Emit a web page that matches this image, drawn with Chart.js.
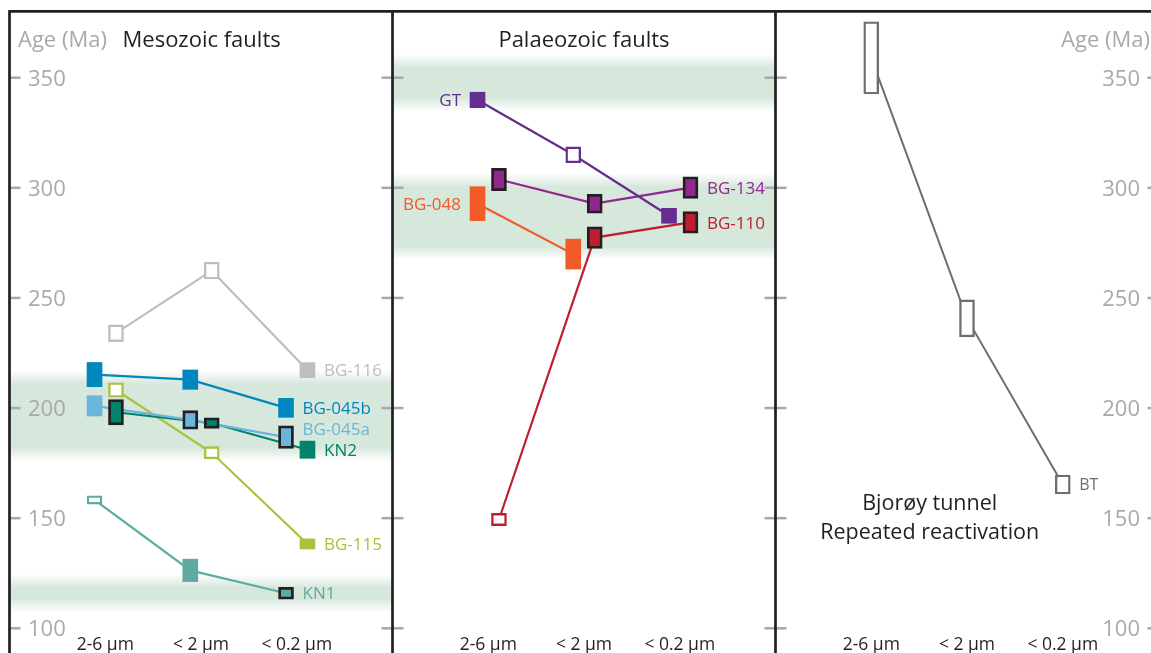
<!DOCTYPE html>
<html>
<head>
<meta charset="utf-8">
<title>Illite ages by grain size fraction</title>
<script src="https://cdn.jsdelivr.net/npm/chart.js@4.4.1/dist/chart.umd.min.js"></script>
<style>
  html, body { margin: 0; padding: 0; background: #fff; }
  #wrap { width: 1151px; height: 653px; }
</style>
</head>
<body>
<div id="wrap"><canvas id="ages" width="1151" height="653"></canvas></div>
<script>
// grain size fractions (same three in every panel)
const categories = ['2-6 µm', '< 2 µm', '< 0.2 µm'];
const panelTitles = ['Mesozoic faults', 'Palaeozoic faults'];
const yTicks = [100, 150, 200, 250, 300, 350];

// ages in Ma, and half height of each age box in Ma
const bg116 = [234.0, 262.4, 217.2],  bg116Err = [3.8, 3.8, 3.4];
const bg045b = [215.2, 212.9, 200.1], bg045bErr = [5.5, 4.4, 4.3];
const bg045a = [201.0, 194.6, 186.8], bg045aErr = [4.6, 4.2, 5.1];
const kn2 = [198.1, 193.2, 181.1],    kn2Err = [5.8, 2.4, 3.9];
const bg115 = [208.2, 179.7, 138.3],  bg115Err = [3.3, 2.8, 2.3];
const kn1 = [158.3, 126.3, 115.9],    kn1Err = [1.9, 5.1, 2.7];
const gt = [339.9, 315.0, 287.3],     gtErr = [3.5, 3.6, 3.4];
const bg134 = [303.8, 292.8, 300.1],  bg134Err = [5.1, 4.3, 4.9];
const bg048 = [292.8, 269.9],         bg048Err = [7.7, 6.8];
const bg110 = [149.4, 277.4, 284.3],  bg110Err = [2.8, 4.9, 4.9];
const bt = [359.0, 240.7, 165.3],     btErr = [16.4, 8.4, 4.3];

// shaded age ranges (Ma)
const mesozoicBands = [[179, 214], [110.5, 121.5]];
const palaeozoicBands = [[338, 357.5], [270.5, 303.5]];

// marks: o = open box, f = filled, b = filled with dark edge
const series = [
    { name: 'BG-116',  ages: bg116,  err: bg116Err,  panel: 0, shift: 1,  color: '#bcbec0', marks: 'oof', side: 'right' },
    { name: 'BG-045b', ages: bg045b, err: bg045bErr, panel: 0, shift: -1, color: '#0087bd', marks: 'fff', side: 'right' },
    { name: 'BG-045a', ages: bg045a, err: bg045aErr, panel: 0, shift: -1, color: '#6bb5dc', marks: 'fbb', side: 'right', dy: -8 },
    { name: 'KN2',     ages: kn2,    err: kn2Err,    panel: 0, shift: 1,  color: '#00826b', marks: 'bbf', side: 'right' },
    { name: 'BG-115',  ages: bg115,  err: bg115Err,  panel: 0, shift: 1,  color: '#a8c23e', marks: 'oof', side: 'right' },
    { name: 'KN1',     ages: kn1,    err: kn1Err,    panel: 0, shift: -1, color: '#5eaca1', marks: 'ofb', side: 'right' },
    { name: 'GT',      ages: gt,     err: gtErr,     panel: 1, shift: -1, color: '#662d91', marks: 'fof', side: 'left' },
    { name: 'BG-134',  ages: bg134,  err: bg134Err,  panel: 1, shift: 1,  color: '#92278f', marks: 'bbb', side: 'right' },
    { name: 'BG-048',  ages: bg048,  err: bg048Err,  panel: 1, shift: -1, color: '#f15a29', marks: 'ff',  side: 'left' },
    { name: 'BG-110',  ages: bg110,  err: bg110Err,  panel: 1, shift: 1,  color: '#be1e2d', marks: 'obb', side: 'right' },
    { name: 'BT',      ages: bt,     err: btErr,     panel: 2, shift: 0,  color: '#6d6e70', marks: 'ooo', side: 'right', size: 16 }
];

const W = 1151, H = 653;
const PANEL = 383, LEFT = 9.5;       // px width of one panel, px of first border
const INK = '#231f20', GREY = '#a7a9ac';
const FONT = '"Open Sans", "Noto Sans", sans-serif';

function xOf(s, i) {
    return s.panel + 0.25 * (i + 1) + s.shift * 0.028;
}

const datasets = [];
series.forEach(s => {
    const marks = s.marks.split('');
    datasets.push({
        type: 'line',
        data: s.ages.map((a, i) => ({ x: xOf(s, i), y: a })),
        borderColor: s.color,
        borderWidth: s.panel === 2 ? 2 : 2.2,
        pointRadius: 0,
        fill: false,
        tension: 0,
        order: 2
    });
    datasets.push({
        type: 'bar',
        data: s.ages.map((a, i) => ({ x: xOf(s, i), y: [a - s.err[i], a + s.err[i]] })),
        backgroundColor: marks.map(m => m === 'o' ? '#ffffff' : s.color),
        borderColor: marks.map(m => m === 'b' ? INK : s.color),
        borderWidth: marks.map(m => m === 'f' ? 0 : (m === 'b' ? 2.8 : 2.4)),
        borderSkipped: false,
        barThickness: 15,
        grouped: false,
        order: 1
    });
});

const decor = {
    id: 'decor',
    beforeDatasetsDraw(chart) {
        const ctx = chart.ctx, xs = chart.scales.x, ys = chart.scales.y;
        [mesozoicBands, palaeozoicBands].forEach((bands, p) => {
            const x0 = xs.getPixelForValue(p), x1 = xs.getPixelForValue(p + 1);
            bands.forEach(b => {
                const f = 7;
                const top = ys.getPixelForValue(b[1]) - f, bot = ys.getPixelForValue(b[0]) + f;
                const g = ctx.createLinearGradient(0, top, 0, bot);
                const e = (2 * f) / (bot - top);
                g.addColorStop(0, 'rgba(214,231,219,0)');
                g.addColorStop(e, 'rgba(214,231,219,1)');
                g.addColorStop(1 - e, 'rgba(214,231,219,1)');
                g.addColorStop(1, 'rgba(214,231,219,0)');
                ctx.fillStyle = g;
                ctx.fillRect(x0, top, x1 - x0, bot - top);
            });
        });
    },
    afterDatasetsDraw(chart) {
        const ctx = chart.ctx, xs = chart.scales.x, ys = chart.scales.y;
        ctx.save();
        ctx.textBaseline = 'alphabetic';

        // sample labels
        series.forEach(s => {
            const size = s.size || 17;
            const i = s.side === 'left' ? 0 : s.ages.length - 1;
            const px = xs.getPixelForValue(xOf(s, i));
            const py = ys.getPixelForValue(s.ages[i]) + (s.dy || 0);
            ctx.font = size + 'px ' + FONT;
            ctx.fillStyle = s.color;
            ctx.textAlign = s.side === 'left' ? 'right' : 'left';
            ctx.fillText(s.name, s.side === 'left' ? px - 16.5 : px + 16.5, py + size * 0.36);
        });

        // axis ticks on every panel border
        ctx.strokeStyle = GREY;
        ctx.lineWidth = 2.5;
        for (let p = 0; p <= 3; p++) {
            const bx = xs.getPixelForValue(p);
            yTicks.forEach(v => {
                const y = ys.getPixelForValue(v);
                ctx.beginPath();
                ctx.moveTo(p === 0 ? bx : bx - 11, y);
                ctx.lineTo(p === 3 ? bx : bx + 11, y);
                ctx.stroke();
            });
        }

        // tick labels, left and right
        ctx.font = '22px ' + FONT;
        ctx.fillStyle = GREY;
        yTicks.forEach(v => {
            const y = ys.getPixelForValue(v) + 8;
            ctx.textAlign = 'left';
            ctx.fillText(String(v), xs.getPixelForValue(0) + 18.5, y);
            ctx.textAlign = 'right';
            ctx.fillText(String(v), xs.getPixelForValue(3) - 18.5, y);
        });
        ctx.textAlign = 'left';
        ctx.fillText('Age (Ma)', 18, 47);
        ctx.textAlign = 'right';
        ctx.fillText('Age (Ma)', W - 1, 47);

        // panel titles
        ctx.fillStyle = INK;
        ctx.textAlign = 'left';
        ctx.fillText(panelTitles[0], 122.5, 47);
        ctx.textAlign = 'center';
        ctx.fillText(panelTitles[1], xs.getPixelForValue(1.5), 47);

        // note in the right panel
        ctx.font = '21.5px ' + FONT;
        const cx = xs.getPixelForValue(2.4) + 1;
        ctx.fillText('Bjorøy tunnel', cx, 510);
        ctx.fillText('Repeated reactivation', cx, 539);

        // grain size labels
        ctx.font = '17.5px ' + FONT;
        for (let p = 0; p < 3; p++) {
            categories.forEach((c, i) => {
                ctx.fillText(c, xs.getPixelForValue(p + 0.25 * (i + 1)), 650);
            });
        }

        // panel frame
        ctx.strokeStyle = INK;
        ctx.lineWidth = 2.7;
        ctx.beginPath();
        ctx.moveTo(xs.getPixelForValue(0) - 1.3, 11.3);
        ctx.lineTo(W, 11.3);
        for (let p = 0; p < 3; p++) {
            const bx = xs.getPixelForValue(p);
            ctx.moveTo(bx, 11.3);
            ctx.lineTo(bx, H);
        }
        ctx.stroke();
        ctx.restore();
    }
};

new Chart(document.getElementById('ages'), {
    type: 'line',
    data: { datasets: datasets },
    options: {
        responsive: false,
        animation: false,
        events: [],
        layout: { padding: 0 },
        scales: {
            x: { type: 'linear', display: false, offset: false, min: -LEFT / PANEL, max: (W - LEFT) / PANEL },
            y: { type: 'linear', display: false, min: 100 - (H - 628.3) / 2.2024, max: 350 + 77.7 / 2.2024 }
        },
        plugins: { legend: { display: false }, tooltip: { enabled: false } }
    },
    plugins: [decor]
});
</script>
</body>
</html>
